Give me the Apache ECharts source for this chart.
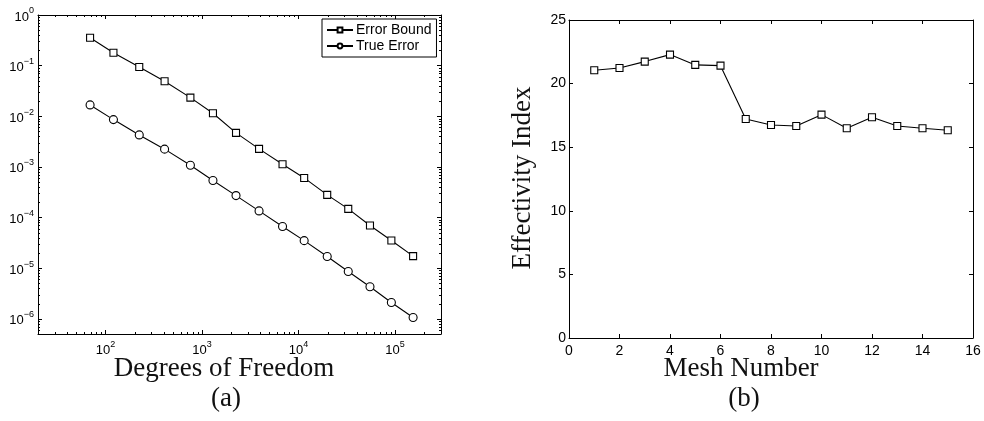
<!DOCTYPE html>
<html><head><meta charset="utf-8">
<script src="https://cdn.jsdelivr.net/npm/echarts@6/dist/echarts.min.js"></script>
<style>html,body{margin:0;padding:0;background:#fff}#c{width:984px;height:421px}</style>
</head><body><div id="c"></div>
<script>
// ---- data (a) ----
const dof = [69.3, 121, 224, 410, 759, 1300, 2254, 3906, 6840, 11460, 19860, 32810, 55100, 91800, 154200];
const errorBound = [0.356, 0.180, 0.0941, 0.0491, 0.0233, 0.01148, 0.00469, 0.00227, 0.00113, 0.000605, 0.000280, 0.000148, 0.0000695, 0.0000352, 0.0000173];
const trueError = [0.01675, 0.00859, 0.00428, 0.00224, 0.00108, 0.000537, 0.000271, 0.000135, 0.0000664, 0.0000349, 0.0000170, 0.00000859, 0.00000429, 0.00000210, 0.00000106];
// ---- data (b) ----
const meshNumber = [1, 2, 3, 4, 5, 6, 7, 8, 9, 10, 11, 12, 13, 14, 15];
const effectivity = [21.05, 21.23, 21.73, 22.28, 21.47, 21.41, 17.22, 16.75, 16.67, 17.56, 16.49, 17.35, 16.67, 16.49, 16.33];
// ---- axis ranges ----
const X_MIN = 20, X_MAX = 3e5, Y_MIN = 5e-7, Y_MAX = 1;
const B_X_MIN = 0, B_X_MAX = 16, B_X_INT = 2, B_Y_MIN = 0, B_Y_MAX = 25, B_Y_INT = 5;
// minor log ticks
function minorTicks(lo, hi) {
  const out = [];
  for (let e = -8; e <= 7; e++) for (let m = 2; m <= 9; m++) {
    const v = m * Math.pow(10, e);
    if (v > lo * 1.0001 && v < hi * 0.9999) out.push(v);
  }
  return out;
}
const xMinor = minorTicks(X_MIN, X_MAX);
const yMinor = minorTicks(Y_MIN, Y_MAX);

const SANS = 'Liberation Sans, Arial, sans-serif';
const SERIF = 'Liberation Serif, Times New Roman, serif';
const BLACK = '#000';

function logFmt(v) {
  const e = Math.round(Math.log10(v));
  if (Math.abs(v - Math.pow(10, e)) / Math.pow(10, e) > 1e-6) return '';
  return '{base|10}{sup|' + (e < 0 ? '\u2212' + (-e) : e) + '}';
}
const logRich = {
  base: { fontSize: 13, fontFamily: SANS, color: BLACK, verticalAlign: 'bottom' },
  sup: { fontSize: 9, fontFamily: SANS, color: BLACK, verticalAlign: 'bottom', padding: [0, 0, 8, 0] }
};
const axisLine = { show: true, onZero: false, lineStyle: { color: BLACK, width: 1 } };
const tick = { show: true, inside: true, length: 4, lineStyle: { color: BLACK, width: 1 } };

function logAxis(pos, grid, isX, showLabel) {
  return {
    type: 'log', logBase: 10, gridIndex: grid, position: pos,
    min: isX ? X_MIN : Y_MIN, max: isX ? X_MAX : Y_MAX,
    axisLine: axisLine, axisTick: tick, splitLine: { show: false }, minorTick: { show: false },
    axisLabel: showLabel ? { show: true, fontSize: 13, fontFamily: SANS, color: BLACK, formatter: logFmt, rich: logRich, margin: isX ? 6 : 4, showMinLabel: true, showMaxLabel: true } : { show: false }
  };
}
function linAxis(pos, grid, isX, showLabel) {
  return {
    type: 'value', gridIndex: grid, position: pos,
    min: isX ? B_X_MIN : B_Y_MIN, max: isX ? B_X_MAX : B_Y_MAX, interval: isX ? B_X_INT : B_Y_INT,
    axisLine: axisLine, axisTick: tick, splitLine: { show: false },
    axisLabel: showLabel ? { show: true, fontSize: 14, fontFamily: SANS, color: BLACK, margin: isX ? 6 : 3 } : { show: false }
  };
}

function minorRender(isX) {
  return function (params, api) {
    const v = api.value(isX ? 0 : 1);
    const L = 2;
    if (isX) {
      const b = api.coord([v, Y_MIN]), t = api.coord([v, Y_MAX]);
      const x = Math.round(b[0]) + 0.5;
      return { type: 'group', children: [
        { type: 'line', shape: { x1: x, y1: b[1], x2: x, y2: b[1] - L }, style: { stroke: BLACK, lineWidth: 1 } },
        { type: 'line', shape: { x1: x, y1: t[1], x2: x, y2: t[1] + L }, style: { stroke: BLACK, lineWidth: 1 } }
      ]};
    } else {
      const l = api.coord([X_MIN, v]), r = api.coord([X_MAX, v]);
      const y = Math.round(l[1]) + 0.5;
      return { type: 'group', children: [
        { type: 'line', shape: { x1: l[0], y1: y, x2: l[0] + L, y2: y }, style: { stroke: BLACK, lineWidth: 1 } },
        { type: 'line', shape: { x1: r[0], y1: y, x2: r[0] - L, y2: y }, style: { stroke: BLACK, lineWidth: 1 } }
      ]};
    }
  };
}

const chart = echarts.init(document.getElementById('c'), null, { renderer: 'canvas' });
chart.setOption({
  animation: false,
  backgroundColor: '#fff',
  grid: [
    { left: 38, top: 15, width: 403, height: 319, containLabel: false },
    { left: 569, top: 20, width: 404, height: 318, containLabel: false }
  ],
  xAxis: [
    logAxis('bottom', 0, true, true),
    logAxis('top', 0, true, false),
    linAxis('bottom', 1, true, true),
    linAxis('top', 1, true, false)
  ],
  yAxis: [
    logAxis('left', 0, false, true),
    logAxis('right', 0, false, false),
    linAxis('left', 1, false, true),
    linAxis('right', 1, false, false)
  ],
  legend: {
    data: ['Error Bound', 'True Error'],
    orient: 'vertical', left: 322, top: 19,
    itemWidth: 26, itemHeight: 6, itemGap: 2,
    padding: [4, 5, 4, 4],
    borderColor: BLACK, borderWidth: 1, backgroundColor: '#fff',
    textStyle: { fontSize: 14, fontFamily: SANS, color: BLACK, padding: [0, 0, 0, -2] }
  },
  graphic: [
    { type: 'text', x: 224, y: 369, style: { text: 'Degrees of Freedom', font: '27px ' + SERIF, fill: '#111', align: 'center', verticalAlign: 'middle' } },
    { type: 'text', x: 226, y: 399, style: { text: '(a)', font: '27px ' + SERIF, fill: '#111', align: 'center', verticalAlign: 'middle' } },
    { type: 'text', x: 741, y: 369, style: { text: 'Mesh Number', font: '27px ' + SERIF, fill: '#111', align: 'center', verticalAlign: 'middle' } },
    { type: 'text', x: 744, y: 399, style: { text: '(b)', font: '27px ' + SERIF, fill: '#111', align: 'center', verticalAlign: 'middle' } },
    { type: 'text', x: 523, y: 178, rotation: Math.PI / 2, style: { text: 'Effectivity Index', font: '27px ' + SERIF, fill: '#111', align: 'center', verticalAlign: 'middle' } }
  ],
  series: [
    { type: 'custom', name: 'xminor', xAxisIndex: 0, yAxisIndex: 0, silent: true, clip: false,
      data: xMinor.map(v => [v, Y_MIN]), renderItem: minorRender(true) },
    { type: 'custom', name: 'yminor', xAxisIndex: 0, yAxisIndex: 0, silent: true, clip: false,
      data: yMinor.map(v => [X_MIN, v]), renderItem: minorRender(false) },
    { type: 'line', name: 'Error Bound', xAxisIndex: 0, yAxisIndex: 0,
      data: dof.map((d, i) => [d, errorBound[i]]),
      symbol: 'rect', symbolSize: 7, showAllSymbol: true,
      lineStyle: { color: BLACK, width: 1.1 }, itemStyle: { color: '#fff', borderColor: BLACK, borderWidth: 1.1 } },
    { type: 'line', name: 'True Error', xAxisIndex: 0, yAxisIndex: 0,
      data: dof.map((d, i) => [d, trueError[i]]),
      symbol: 'circle', symbolSize: 8, showAllSymbol: true,
      lineStyle: { color: BLACK, width: 1.1 }, itemStyle: { color: '#fff', borderColor: BLACK, borderWidth: 1.1 } },
    { type: 'line', name: 'Effectivity', xAxisIndex: 2, yAxisIndex: 2,
      data: meshNumber.map((m, i) => [m, effectivity[i]]),
      symbol: 'rect', symbolSize: 7, showAllSymbol: true,
      lineStyle: { color: BLACK, width: 1.1 }, itemStyle: { color: '#fff', borderColor: BLACK, borderWidth: 1.1 } }
  ]
});
</script></body></html>
